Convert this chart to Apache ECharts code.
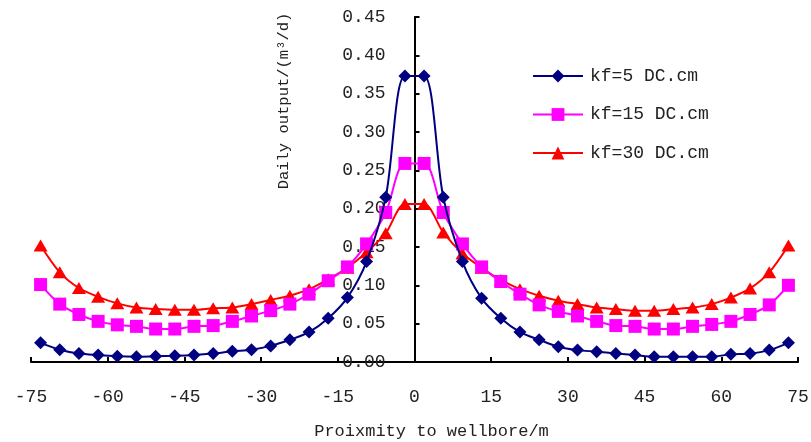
<!DOCTYPE html>
<html>
<head>
<meta charset="utf-8">
<script src="https://cdn.jsdelivr.net/npm/echarts@6/dist/echarts.min.js"></script>
<style>
  html, body { margin: 0; padding: 0; background: #fff; }
  #container { width: 811px; height: 442px; }
</style>
</head>
<body>
<div id="container"></div>
<script>
// distance from wellbore (m), one point per cell
var positions = [-73.125, -69.375, -65.625, -61.875, -58.125, -54.375, -50.625, -46.875, -43.125, -39.375,
    -35.625, -31.875, -28.125, -24.375, -20.625, -16.875, -13.125, -9.375, -5.625, -1.875,
    1.875, 5.625, 9.375, 13.125, 16.875, 20.625, 24.375, 28.125, 31.875, 35.625,
    39.375, 43.125, 46.875, 50.625, 54.375, 58.125, 61.875, 65.625, 69.375, 73.125];

// daily output (m3/d)
var kf5 = [0.025, 0.016, 0.011, 0.009, 0.0075, 0.007, 0.0075, 0.008, 0.009, 0.011,
    0.014, 0.016, 0.021, 0.029, 0.039, 0.057, 0.084, 0.131, 0.215, 0.373,
    0.373, 0.215, 0.131, 0.083, 0.057, 0.039, 0.029, 0.020, 0.0155, 0.0135,
    0.011, 0.009, 0.007, 0.007, 0.007, 0.007, 0.010, 0.011, 0.0155, 0.025];
var kf15 = [0.101, 0.0755, 0.062, 0.053, 0.0485, 0.0465, 0.043, 0.043, 0.0465, 0.0475,
    0.053, 0.060, 0.067, 0.0755, 0.0885, 0.106, 0.124, 0.154, 0.195, 0.259,
    0.259, 0.195, 0.154, 0.124, 0.105, 0.0885, 0.0745, 0.066, 0.060, 0.053,
    0.0475, 0.0465, 0.043, 0.043, 0.0465, 0.049, 0.053, 0.062, 0.0745, 0.100];
var kf30 = [0.152, 0.117, 0.0965, 0.085, 0.0765, 0.071, 0.069, 0.068, 0.068, 0.070,
    0.071, 0.0755, 0.081, 0.0865, 0.095, 0.108, 0.123, 0.143, 0.168, 0.206,
    0.206, 0.169, 0.1415, 0.123, 0.107, 0.095, 0.0865, 0.080, 0.0755, 0.071,
    0.069, 0.067, 0.067, 0.069, 0.071, 0.0755, 0.084, 0.096, 0.117, 0.152];

var seriesNames = ['kf=5 DC.cm', 'kf=15 DC.cm', 'kf=30 DC.cm'];

function pairs(ys) {
    return positions.map(function (x, i) { return [x, ys[i]]; });
}

var font = '"Liberation Mono", "DejaVu Sans Mono", monospace';
var textColor = '#222';
var gridLeft = 31, gridRight = 13;
// y axis sits on x = 0, which is the middle of the symmetric x range
var yAxisShift = (811 - gridLeft - gridRight) / 2;

var myChart = echarts.init(document.getElementById('container'));
var option = {
    animation: false,
    backgroundColor: '#fff',
    grid: { left: gridLeft, right: gridRight, top: 17, bottom: 80, containLabel: false, outerBoundsMode: 'none' },
    legend: {
        orient: 'vertical',
        left: 532,
        top: 67,
        padding: 0,
        itemWidth: 50,
        itemHeight: 16,
        itemGap: 20.5,
        textStyle: { fontFamily: font, fontSize: 18, color: textColor, padding: [0, 0, 0, 2] },
        data: seriesNames
    },
    graphic: [{
        type: 'text',
        x: 284,
        y: 101,
        rotation: Math.PI / 2,
        style: {
            text: 'Daily output/(m³/d)',
            font: '15.5px ' + font,
            fill: textColor,
            align: 'center',
            verticalAlign: 'middle'
        }
    }],
    xAxis: {
        type: 'value',
        min: -75,
        max: 75,
        interval: 15,
        name: 'Proixmity to wellbore/m',
        nameLocation: 'middle',
        nameGap: 61,
        nameTextStyle: { fontFamily: font, fontSize: 17, color: textColor, padding: [0, 0, 0, 34] },
        axisLine: { onZero: false, lineStyle: { color: '#000', width: 2 } },
        axisTick: { show: true, inside: true, length: 5, lineStyle: { color: '#000', width: 2 } },
        axisLabel: { fontFamily: font, fontSize: 18, color: textColor, margin: 26 },
        splitLine: { show: false }
    },
    yAxis: {
        type: 'value',
        position: 'left',
        offset: -yAxisShift,
        min: 0,
        max: 0.45,
        interval: 0.05,
        axisLine: { show: true, onZero: false, lineStyle: { color: '#000', width: 2 } },
        axisTick: { show: true, inside: true, length: 5, lineStyle: { color: '#000', width: 2 } },
        axisLabel: {
            fontFamily: font, fontSize: 18, color: textColor, margin: 29,
            formatter: function (v) { return v.toFixed(2); }
        },
        splitLine: { show: false }
    },
    series: [
        {
            name: seriesNames[0],
            type: 'line',
            smooth: 0.3,
            data: pairs(kf5),
            symbol: 'diamond',
            symbolSize: 13,
            z: 3,
            itemStyle: { color: '#000080' },
            lineStyle: { color: '#000080', width: 2 }
        },
        {
            name: seriesNames[1],
            type: 'line',
            smooth: 0.3,
            data: pairs(kf15),
            symbol: 'rect',
            symbolSize: 13,
            z: 2,
            itemStyle: { color: '#ff00ff' },
            lineStyle: { color: '#ff00ff', width: 2 }
        },
        {
            name: seriesNames[2],
            type: 'line',
            smooth: 0.3,
            data: pairs(kf30),
            symbol: 'triangle',
            symbolSize: [14, 12],
            z: 1,
            itemStyle: { color: '#ff0000' },
            lineStyle: { color: '#ff0000', width: 2 }
        }
    ]
};
myChart.setOption(option);
</script>
</body>
</html>
